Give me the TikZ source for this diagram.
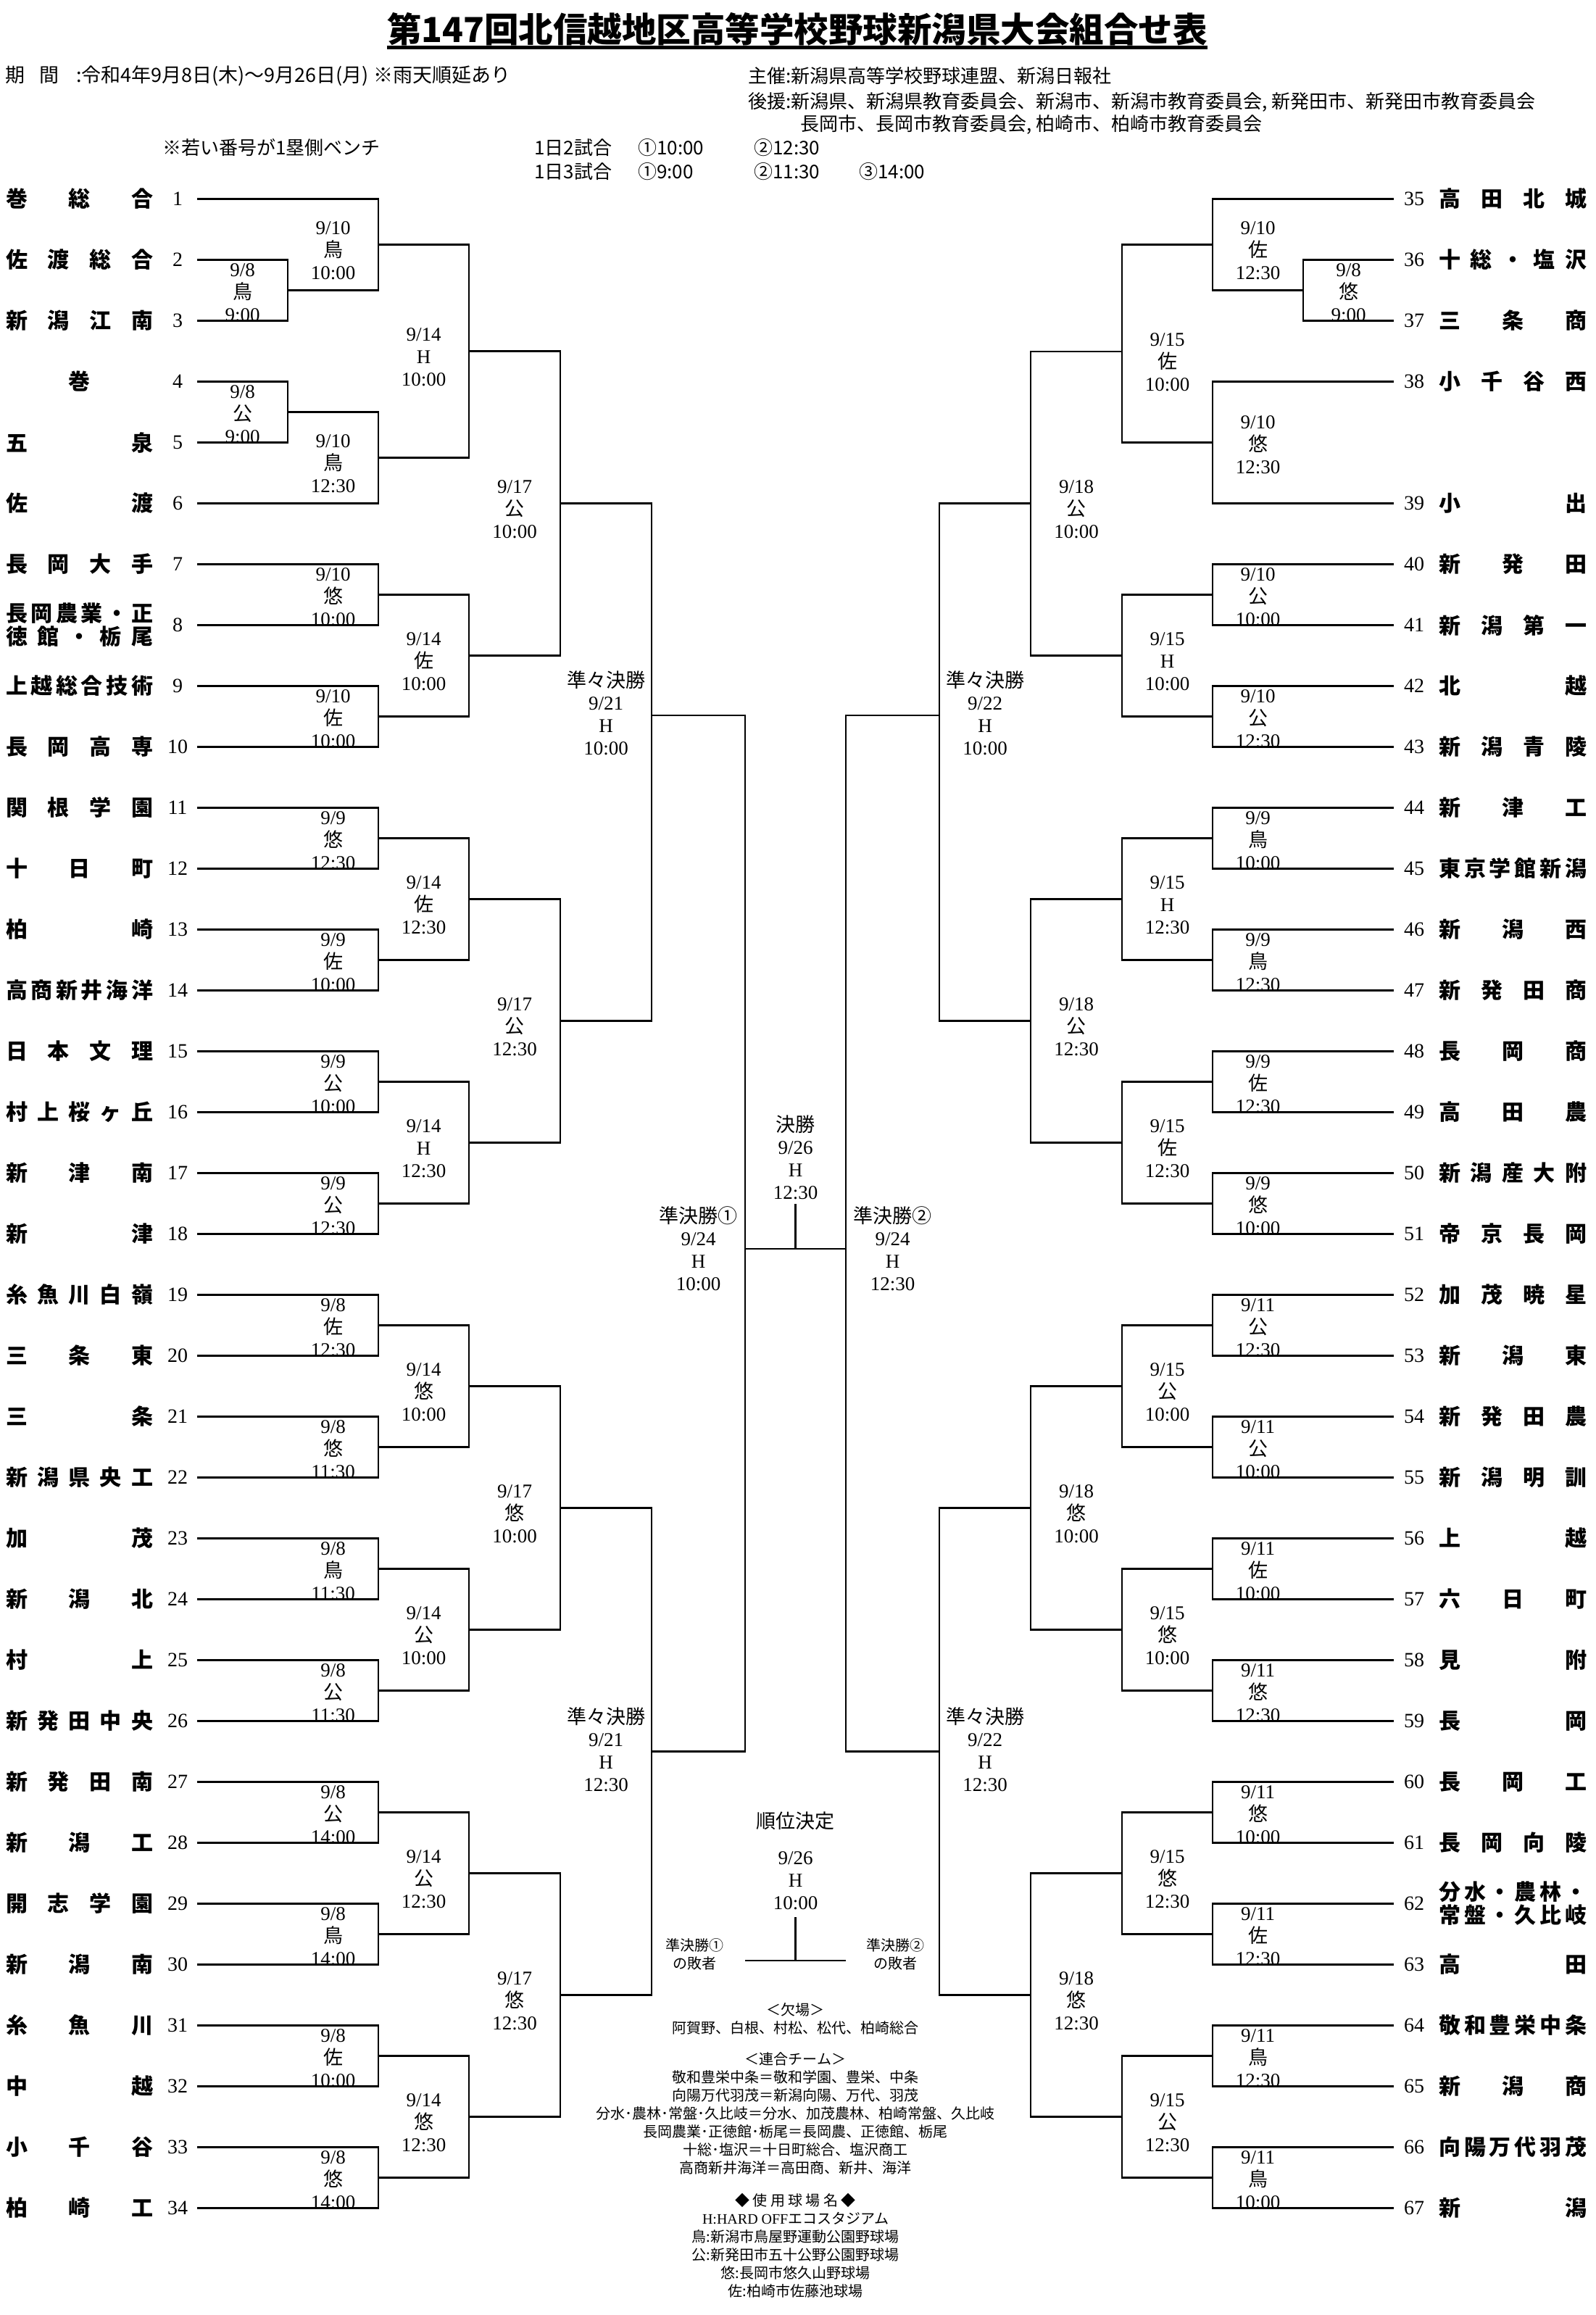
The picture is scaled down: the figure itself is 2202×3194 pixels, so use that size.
\documentclass[tikz,border=0pt]{standalone}
\usepackage{fontspec}
\setmainfont{Noto Sans CJK JP}
\newfontfamily\lat{Liberation Serif}
\makeatletter
\newcommand\spread[1]{\def\sp@sep{\def\sp@sep{\hfill}}\@tfor\sp@ch:=#1\do{\sp@sep\sp@ch}}
\makeatother
\tikzset{
  ln/.style={line width=2.3pt, line join=miter},
  lab/.style={align=center, inner sep=0pt, font=\fontsize{27}{31}\selectfont},
  num/.style={inner sep=0pt, font=\lat\fontsize{28}{30}\selectfont},
  tm/.style={inner sep=0pt, anchor=west, font=\bfseries\fontsize{30}{32}\selectfont},
  hd/.style={inner sep=0pt, anchor=west, font=\fontsize{26}{30}\selectfont},
  nt/.style={inner sep=0pt, align=center, font=\fontsize{20}{25}\selectfont},
}
\newcommand\teamL[3]{\node[tm] (n#1) at (8,#2) {\makebox[203pt]{\spread{#3}}};\node[num] (k#1) at (245,#2) {#1};\coordinate (t#1) at (272,#2);}
\newcommand\teamR[3]{\node[tm] (n#1) at (1985,#2) {\makebox[204pt]{\spread{#3}}};\node[num] (k#1) at (1951,#2) {#1};\coordinate (t#1) at (1923,#2);}
\newcommand\mtch[5]{\coordinate (#1) at (#2,#3);\draw[ln] (#4) -| (#1) |- (#5);}
\newcommand\mlab[6]{\node[lab] (#1) at (#2,#3) {{\lat #4}\\{#5}\\{\lat #6}};}
\begin{document}
\begin{tikzpicture}[x=1pt,y=-1pt]
\fill[white] (0,0) rectangle (2202,3194);
\useasboundingbox (0,0) rectangle (2202,3194);
% ---------- header ----------
\node[inner sep=0pt, font=\bfseries\fontsize{47.5}{50}\selectfont] (title) at (1100,40) {第147回北信越地区高等学校野球新潟県大会組合せ表};
\coordinate (ul) at (0,65);
\draw[line width=5pt] (title.west |- ul) -- (title.east |- ul);
\node[hd, font=\fontsize{27}{30}\selectfont] (h1) at (7,105) {期\hspace{20pt}間\hspace{24pt}:令和4年9月8日(木)～9月26日(月) ※雨天順延あり};
\node[hd] (h2) at (1032,105) {主催:新潟県高等学校野球連盟、新潟日報社};
\node[hd] (h3) at (1032,141) {後援:新潟県、新潟県教育委員会、新潟市、新潟市教育委員会, 新発田市、新発田市教育委員会};
\node[hd] (h4) at (1104,172) {長岡市、長岡市教育委員会, 柏崎市、柏崎市教育委員会};
\node[hd] (h5) at (224,204) {※若い番号が1塁側ベンチ};
\node[hd] (h6) at (737,204) {1日2試合};
\node[hd] (h7) at (880,204) {①10:00};
\node[hd] (h8) at (1040,204) {②12:30};
\node[hd] (h9) at (737,237) {1日3試合};
\node[hd] (h10) at (880,237) {①9:00};
\node[hd] (h11) at (1040,237) {②11:30};
\node[hd] (h12) at (1185,237) {③14:00};
% ---------- left teams ----------
\teamL{1}{274.5}{巻総合}
\teamL{2}{358.5}{佐渡総合}
\teamL{3}{442.5}{新潟江南}
\teamL{4}{526.5}{巻}
\teamL{5}{610.5}{五泉}
\teamL{6}{694.5}{佐渡}
\teamL{7}{778.5}{長岡大手}
\node[tm, align=left] (n8) at (8,862.5) {\makebox[203pt]{\spread{長岡農業・正}}\\\makebox[203pt]{\spread{徳館・栃尾}}};
\node[num] (k8) at (245,862.5) {8};
\coordinate (t8) at (272,862.5);
\teamL{9}{946.5}{上越総合技術}
\teamL{10}{1030.5}{長岡高専}
\teamL{11}{1114.5}{関根学園}
\teamL{12}{1198.5}{十日町}
\teamL{13}{1282.5}{柏崎}
\teamL{14}{1366.5}{高商新井海洋}
\teamL{15}{1450.5}{日本文理}
\teamL{16}{1534.5}{村上桜ヶ丘}
\teamL{17}{1618.5}{新津南}
\teamL{18}{1702.5}{新津}
\teamL{19}{1786.5}{糸魚川白嶺}
\teamL{20}{1870.5}{三条東}
\teamL{21}{1954.5}{三条}
\teamL{22}{2038.5}{新潟県央工}
\teamL{23}{2122.5}{加茂}
\teamL{24}{2206.5}{新潟北}
\teamL{25}{2290.5}{村上}
\teamL{26}{2374.5}{新発田中央}
\teamL{27}{2458.5}{新発田南}
\teamL{28}{2542.5}{新潟工}
\teamL{29}{2626.5}{開志学園}
\teamL{30}{2710.5}{新潟南}
\teamL{31}{2794.5}{糸魚川}
\teamL{32}{2878.5}{中越}
\teamL{33}{2962.5}{小千谷}
\teamL{34}{3046.5}{柏崎工}
% ---------- right teams ----------
\teamR{35}{274.5}{高田北城}
\teamR{36}{358.5}{十総・塩沢}
\teamR{37}{442.5}{三条商}
\teamR{38}{526.5}{小千谷西}
\teamR{39}{694.5}{小出}
\teamR{40}{778.5}{新発田}
\teamR{41}{862.5}{新潟第一}
\teamR{42}{946.5}{北越}
\teamR{43}{1030.5}{新潟青陵}
\teamR{44}{1114.5}{新津工}
\teamR{45}{1198.5}{東京学館新潟}
\teamR{46}{1282.5}{新潟西}
\teamR{47}{1366.5}{新発田商}
\teamR{48}{1450.5}{長岡商}
\teamR{49}{1534.5}{高田農}
\teamR{50}{1618.5}{新潟産大附}
\teamR{51}{1702.5}{帝京長岡}
\teamR{52}{1786.5}{加茂暁星}
\teamR{53}{1870.5}{新潟東}
\teamR{54}{1954.5}{新発田農}
\teamR{55}{2038.5}{新潟明訓}
\teamR{56}{2122.5}{上越}
\teamR{57}{2206.5}{六日町}
\teamR{58}{2290.5}{見附}
\teamR{59}{2374.5}{長岡}
\teamR{60}{2458.5}{長岡工}
\teamR{61}{2542.5}{長岡向陵}
\node[tm, align=left] (n62) at (1985,2626.5) {\makebox[204pt]{\spread{分水・農林・}}\\\makebox[204pt]{\spread{常盤・久比岐}}};
\node[num] (k62) at (1951,2626.5) {62};
\coordinate (t62) at (1923,2626.5);
\teamR{63}{2710.5}{高田}
\teamR{64}{2794.5}{敬和豊栄中条}
\teamR{65}{2878.5}{新潟商}
\teamR{66}{2962.5}{向陽万代羽茂}
\teamR{67}{3046.5}{新潟}
% ---------- left bracket ----------
\mtch{a1}{397}{400.5}{t2}{t3}
\mtch{a2}{397}{568.5}{t4}{t5}
\mtch{b1}{522}{337.5}{t1}{a1}
\mtch{b2}{522}{631.5}{a2}{t6}
\mtch{c1}{647}{484.5}{b1}{b2}
\mtch{b3}{522}{820.5}{t7}{t8}
\mtch{b4}{522}{988.5}{t9}{t10}
\mtch{c2}{647}{904.5}{b3}{b4}
\mtch{d1}{773}{694.5}{c1}{c2}
\mtch{b5}{522}{1156.5}{t11}{t12}
\mtch{b6}{522}{1324.5}{t13}{t14}
\mtch{c3}{647}{1240.5}{b5}{b6}
\mtch{b7}{522}{1492.5}{t15}{t16}
\mtch{b8}{522}{1660.5}{t17}{t18}
\mtch{c4}{647}{1576.5}{b7}{b8}
\mtch{d2}{773}{1408.5}{c3}{c4}
\mtch{e1}{899}{987}{d1}{d2}
\mtch{b9}{522}{1828.5}{t19}{t20}
\mtch{b10}{522}{1996.5}{t21}{t22}
\mtch{c5}{647}{1912.5}{b9}{b10}
\mtch{b11}{522}{2164.5}{t23}{t24}
\mtch{b12}{522}{2332.5}{t25}{t26}
\mtch{c6}{647}{2248.5}{b11}{b12}
\mtch{d3}{773}{2080.5}{c5}{c6}
\mtch{b13}{522}{2500.5}{t27}{t28}
\mtch{b14}{522}{2668.5}{t29}{t30}
\mtch{c7}{647}{2584.5}{b13}{b14}
\mtch{b15}{522}{2836.5}{t31}{t32}
\mtch{b16}{522}{3004.5}{t33}{t34}
\mtch{c8}{647}{2920.5}{b15}{b16}
\mtch{d4}{773}{2752.5}{c7}{c8}
\mtch{e2}{899}{2416.5}{d3}{d4}
% ---------- right bracket ----------
\mtch{ra1}{1798}{400.5}{t36}{t37}
\mtch{rb1}{1673}{337.5}{t35}{ra1}
\mtch{rb2}{1673}{610.5}{t38}{t39}
\mtch{rc1}{1548}{485}{rb1}{rb2}
\mtch{rb3}{1673}{820.5}{t40}{t41}
\mtch{rb4}{1673}{988.5}{t42}{t43}
\mtch{rc2}{1548}{904.5}{rb3}{rb4}
\mtch{rd1}{1422}{694.5}{rc1}{rc2}
\mtch{rb5}{1673}{1156.5}{t44}{t45}
\mtch{rb6}{1673}{1324.5}{t46}{t47}
\mtch{rc3}{1548}{1240.5}{rb5}{rb6}
\mtch{rb7}{1673}{1492.5}{t48}{t49}
\mtch{rb8}{1673}{1660.5}{t50}{t51}
\mtch{rc4}{1548}{1576.5}{rb7}{rb8}
\mtch{rd2}{1422}{1408.5}{rc3}{rc4}
\mtch{re1}{1296}{987}{rd1}{rd2}
\mtch{rb9}{1673}{1828.5}{t52}{t53}
\mtch{rb10}{1673}{1996.5}{t54}{t55}
\mtch{rc5}{1548}{1912.5}{rb9}{rb10}
\mtch{rb11}{1673}{2164.5}{t56}{t57}
\mtch{rb12}{1673}{2332.5}{t58}{t59}
\mtch{rc6}{1548}{2248.5}{rb11}{rb12}
\mtch{rd3}{1422}{2080.5}{rc5}{rc6}
\mtch{rb13}{1673}{2500.5}{t60}{t61}
\mtch{rb14}{1673}{2668.5}{t62}{t63}
\mtch{rc7}{1548}{2584.5}{rb13}{rb14}
\mtch{rb15}{1673}{2836.5}{t64}{t65}
\mtch{rb16}{1673}{3004.5}{t66}{t67}
\mtch{rc8}{1548}{2920.5}{rb15}{rb16}
\mtch{rd4}{1422}{2752.5}{rc7}{rc8}
\mtch{re2}{1296}{2416.5}{rd3}{rd4}
% ---------- semifinals / final ----------
\coordinate (sL) at (1028,1723);
\coordinate (sR) at (1167,1723);
\draw[ln] (e1) -| (sL) |- (e2);
\draw[ln] (re1) -| (sR) |- (re2);
\draw[ln] (sL) -- (sR);
\coordinate (fT) at (1097.5,1661);
\coordinate (fB) at (1097.5,1723);
\draw[ln] (fT) -- (fB);
\coordinate (pL) at (1028,2705);
\coordinate (pR) at (1167,2705);
\coordinate (pT) at (1097.5,2645);
\coordinate (pB) at (1097.5,2705);
\draw[ln] (pL) -- (pR);
\draw[ln] (pT) -- (pB);
% ---------- left labels ----------
\mlab{la1}{334.5}{403.5}{9/8}{鳥}{9:00}
\mlab{la2}{334.5}{571.5}{9/8}{公}{9:00}
\mlab{lb1}{459.5}{345.5}{9/10}{鳥}{10:00}
\mlab{lb2}{459.5}{639.5}{9/10}{鳥}{12:30}
\mlab{lc1}{584.5}{492.5}{9/14}{\lat H}{10:00}
\mlab{lb3}{459.5}{823.5}{9/10}{悠}{10:00}
\mlab{lb4}{459.5}{991.5}{9/10}{佐}{10:00}
\mlab{lc2}{584.5}{912.5}{9/14}{佐}{10:00}
\mlab{ld1}{710}{702.5}{9/17}{公}{10:00}
\mlab{lb5}{459.5}{1159.5}{9/9}{悠}{12:30}
\mlab{lb6}{459.5}{1327.5}{9/9}{佐}{10:00}
\mlab{lc3}{584.5}{1248.5}{9/14}{佐}{12:30}
\mlab{lb7}{459.5}{1495.5}{9/9}{公}{10:00}
\mlab{lb8}{459.5}{1663.5}{9/9}{公}{12:30}
\mlab{lc4}{584.5}{1584.5}{9/14}{\lat H}{12:30}
\mlab{ld2}{710}{1416.5}{9/17}{公}{12:30}
\node[lab] (le1) at (836,984) {準々決勝\\{\lat 9/21}\\{\lat H}\\{\lat 10:00}};
\mlab{lb9}{459.5}{1831.5}{9/8}{佐}{12:30}
\mlab{lb10}{459.5}{1999.5}{9/8}{悠}{11:30}
\mlab{lc5}{584.5}{1920.5}{9/14}{悠}{10:00}
\mlab{lb11}{459.5}{2167.5}{9/8}{鳥}{11:30}
\mlab{lb12}{459.5}{2335.5}{9/8}{公}{11:30}
\mlab{lc6}{584.5}{2256.5}{9/14}{公}{10:00}
\mlab{ld3}{710}{2088.5}{9/17}{悠}{10:00}
\mlab{lb13}{459.5}{2503.5}{9/8}{公}{14:00}
\mlab{lb14}{459.5}{2671.5}{9/8}{鳥}{14:00}
\mlab{lc7}{584.5}{2592.5}{9/14}{公}{12:30}
\mlab{lb15}{459.5}{2839.5}{9/8}{佐}{10:00}
\mlab{lb16}{459.5}{3007.5}{9/8}{悠}{14:00}
\mlab{lc8}{584.5}{2928.5}{9/14}{悠}{12:30}
\mlab{ld4}{710}{2760.5}{9/17}{悠}{12:30}
\node[lab] (le2) at (836,2413.5) {準々決勝\\{\lat 9/21}\\{\lat H}\\{\lat 12:30}};
% ---------- right labels ----------
\mlab{lra1}{1860.5}{403.5}{9/8}{悠}{9:00}
\mlab{lrb1}{1735.5}{345.5}{9/10}{佐}{12:30}
\mlab{lrb2}{1735.5}{613.5}{9/10}{悠}{12:30}
\mlab{lrc1}{1610.5}{500}{9/15}{佐}{10:00}
\mlab{lrb3}{1735.5}{823.5}{9/10}{公}{10:00}
\mlab{lrb4}{1735.5}{991.5}{9/10}{公}{12:30}
\mlab{lrc2}{1610.5}{912.5}{9/15}{\lat H}{10:00}
\mlab{lrd1}{1485}{702.5}{9/18}{公}{10:00}
\mlab{lrb5}{1735.5}{1159.5}{9/9}{鳥}{10:00}
\mlab{lrb6}{1735.5}{1327.5}{9/9}{鳥}{12:30}
\mlab{lrc3}{1610.5}{1248.5}{9/15}{\lat H}{12:30}
\mlab{lrb7}{1735.5}{1495.5}{9/9}{佐}{12:30}
\mlab{lrb8}{1735.5}{1663.5}{9/9}{悠}{10:00}
\mlab{lrc4}{1610.5}{1584.5}{9/15}{佐}{12:30}
\mlab{lrd2}{1485}{1416.5}{9/18}{公}{12:30}
\node[lab] (lre1) at (1359,984) {準々決勝\\{\lat 9/22}\\{\lat H}\\{\lat 10:00}};
\mlab{lrb9}{1735.5}{1831.5}{9/11}{公}{12:30}
\mlab{lrb10}{1735.5}{1999.5}{9/11}{公}{10:00}
\mlab{lrc5}{1610.5}{1920.5}{9/15}{公}{10:00}
\mlab{lrb11}{1735.5}{2167.5}{9/11}{佐}{10:00}
\mlab{lrb12}{1735.5}{2335.5}{9/11}{悠}{12:30}
\mlab{lrc6}{1610.5}{2256.5}{9/15}{悠}{10:00}
\mlab{lrd3}{1485}{2088.5}{9/18}{悠}{10:00}
\mlab{lrb13}{1735.5}{2503.5}{9/11}{悠}{10:00}
\mlab{lrb14}{1735.5}{2671.5}{9/11}{佐}{12:30}
\mlab{lrc7}{1610.5}{2592.5}{9/15}{悠}{12:30}
\mlab{lrb15}{1735.5}{2839.5}{9/11}{鳥}{12:30}
\mlab{lrb16}{1735.5}{3007.5}{9/11}{鳥}{10:00}
\mlab{lrc8}{1610.5}{2928.5}{9/15}{公}{12:30}
\mlab{lrd4}{1485}{2760.5}{9/18}{悠}{12:30}
\node[lab] (lre2) at (1359,2413.5) {準々決勝\\{\lat 9/22}\\{\lat H}\\{\lat 12:30}};
% ---------- centre labels ----------
\node[lab] (lsL) at (963.5,1723) {準決勝①\\{\lat 9/24}\\{\lat H}\\{\lat 10:00}};
\node[lab] (lsR) at (1231.5,1723) {準決勝②\\{\lat 9/24}\\{\lat H}\\{\lat 12:30}};
\node[lab] (lfin) at (1097.5,1597) {決勝\\{\lat 9/26}\\{\lat H}\\{\lat 12:30}};
\node[lab] (ljun) at (1097.5,2512) {順位決定};
\node[lab] (ljun2) at (1097.5,2595) {{\lat 9/26}\\{\lat H}\\{\lat 10:00}};
\node[nt] (lp1) at (958,2696) {準決勝①\\の敗者};
\node[nt] (lp2) at (1235,2696) {準決勝②\\の敗者};
% ---------- notes ----------
\node[nt] (nA) at (1097.5,2785.5) {＜欠場＞\\阿賀野、白根、村松、松代、柏崎総合};
\node[nt] (nB) at (1097.5,2915.5) {＜連合チーム＞\\敬和豊栄中条＝敬和学園、豊栄、中条\\向陽万代羽茂＝新潟向陽、万代、羽茂\\分水･農林･常盤･久比岐＝分水、加茂農林、柏崎常盤、久比岐\\長岡農業･正徳館･栃尾＝長岡農、正徳館、栃尾\\十総･塩沢＝十日町総合、塩沢商工\\高商新井海洋＝高田商、新井、海洋};
\node[nt] (nC) at (1097.5,3098) {◆ 使 用 球 場 名 ◆\\{\lat H:HARD OFF}エコスタジアム\\鳥:新潟市鳥屋野運動公園野球場\\公:新発田市五十公野公園野球場\\悠:長岡市悠久山野球場\\佐:柏崎市佐藤池球場};
\end{tikzpicture}
\end{document}
